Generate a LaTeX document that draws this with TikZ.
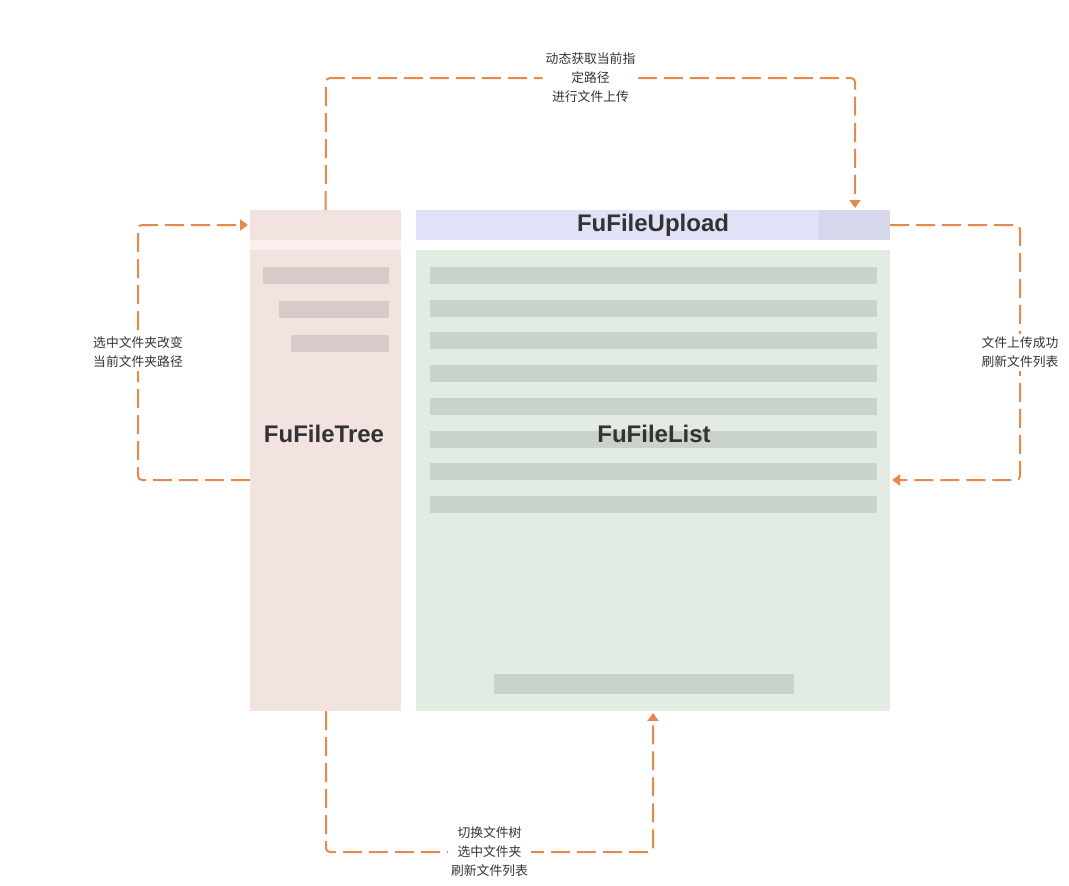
\documentclass[tikz,border=0pt]{standalone}
\usepackage{fontspec}
\setmainfont{Liberation Sans}
\newfontfamily\cjk{Noto Sans CJK SC}
\usetikzlibrary{arrows.meta}

\definecolor{treebg}{HTML}{F2E2E0}
\definecolor{treestripe}{HTML}{FDEFED}
\definecolor{treerow}{HTML}{D9C9C8}
\definecolor{upbg}{HTML}{E1E2F8}
\definecolor{upbtn}{HTML}{D6D7EB}
\definecolor{listbg}{HTML}{E2ECE2}
\definecolor{listrow}{HTML}{C9D3C9}
\definecolor{flowc}{HTML}{E8894C}
\definecolor{txt}{HTML}{333333}

\tikzset{
  panel/.style={inner sep=0pt, anchor=north west, draw=none},
  title/.style={font=\bfseries\fontsize{24}{27}\selectfont, text=txt},
  flow/.style={draw=flowc, line width=2pt, dash pattern=on 19pt off 7pt,
    rounded corners=4pt, -{Triangle[width=11pt,length=8pt]}},
  lbl/.style={fill=white, text=txt, align=center, inner sep=3pt,
    font=\cjk\fontsize{12.8}{19}\selectfont}
}

\begin{document}
\begin{tikzpicture}[x=1pt,y=-1pt]
	\useasboundingbox (0,0) rectangle (1069,886);

	% tree panel
	\node[panel, fill=treebg, minimum width=151pt, minimum height=501pt] (tree) at (250,210) {};
	\node[panel, fill=treestripe, minimum width=151pt, minimum height=10pt] (treestripe) at (250,240) {};
	\node[panel, fill=treerow, minimum width=126pt, minimum height=17pt] (trow1) at (263,267) {};
	\node[panel, fill=treerow, minimum width=110pt, minimum height=17pt] (trow2) at (279,301) {};
	\node[panel, fill=treerow, minimum width=98pt, minimum height=17pt] (trow3) at (291,335) {};

	% upload bar
	\node[panel, fill=upbg, minimum width=474pt, minimum height=30pt] (upload) at (416,210) {};
	\node[panel, fill=upbtn, minimum width=71pt, minimum height=30pt] (upbtn) at (819,210) {};

	% file list
	\node[panel, fill=listbg, minimum width=474pt, minimum height=461pt] (list) at (416,250) {};
	\foreach \y [count=\i] in {267,300,332,365,398,431,463,496}
		\node[panel, fill=listrow, minimum width=447pt, minimum height=17pt] (lrow\i) at (430,\y) {};
	\node[panel, fill=listrow, minimum width=300pt, minimum height=20pt] (pager) at (494,674) {};

	% titles
	\node[title] (treetitle) at (324,434) {FuFileTree};
	\node[title] (uptitle) at (653,225) {FuFileUpload};
	\node[title] (listtitle) at (654,434) {FuFileList};

	% connectors
	\coordinate (uptip) at (855,208);
	\coordinate (treein) at (248,225);
	\coordinate (treeout) at (250,480);
	\coordinate (upout) at (890,225);
	\coordinate (listin) at (892,480);
	\coordinate (treebot) at (326,711);
	\coordinate (listbot) at (653,713);

	\draw[flow] (tree.north) -- (326,78) -- node[lbl] (toplbl) {动态获取当前指\\定路径\\进行文件上传} (855,78) -- (uptip);
	\draw[flow] (treeout) -- (138,480) -- node[lbl] (leftlbl) {选中文件夹改变\\当前文件夹路径} (138,225) -- (treein);
	\draw[flow] (upout) -- (1020,225) -- node[lbl] (rightlbl) {文件上传成功\\刷新文件列表} (1020,480) -- (listin);
	\draw[flow] (treebot) -- (326,852) -- node[lbl] (botlbl) {切换文件树\\选中文件夹\\刷新文件列表} (653,852) -- (listbot);
\end{tikzpicture}
\end{document}
